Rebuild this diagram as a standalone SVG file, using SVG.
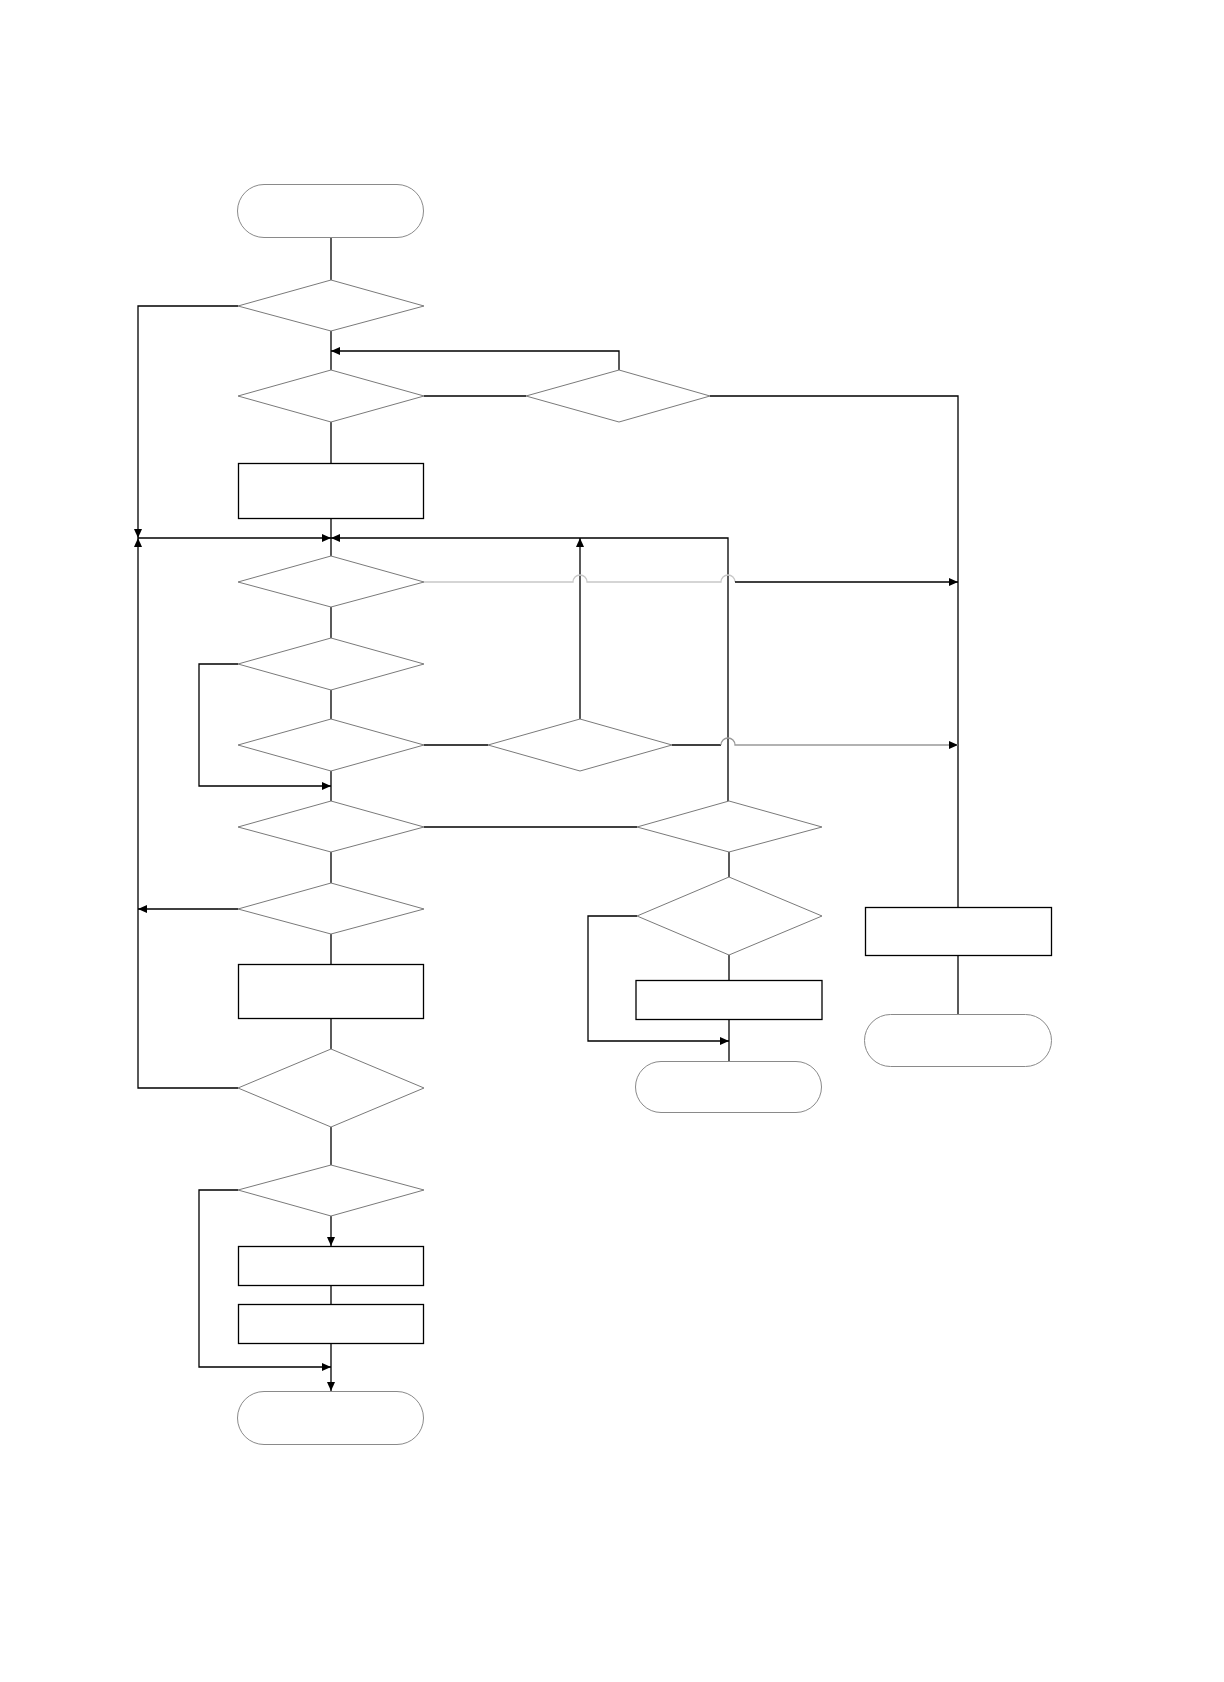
<svg xmlns="http://www.w3.org/2000/svg" width="1224" height="1682" viewBox="0 0 1224 1682">
<style>
.term{fill:#fff;stroke:#8a8a8a;stroke-width:1}
.dia{fill:#fff;stroke:#7a7a7a;stroke-width:1}
.box{fill:#fff;stroke:#000;stroke-width:1.3}
.c{fill:none;stroke:#000;stroke-width:1.3}
.cg{fill:none;stroke:#c8c8c8;stroke-width:1.3}
.cm{fill:none;stroke:#999;stroke-width:1.3}
</style>
<defs>
<marker id="ah" markerUnits="userSpaceOnUse" markerWidth="10" markerHeight="9" refX="9" refY="4" orient="auto">
<path d="M0,0 L9,4 L0,8 z" fill="#000"/>
</marker>
</defs>
<rect width="1224" height="1682" fill="#fff"/>
<g id="connectors">
<path class="c" d="M331,237 V280"/>
<path class="c" d="M331,331 V370"/>
<path class="c" d="M238,306 H138 V538" marker-end="url(#ah)"/>
<path class="c" d="M619,370 V351 H331" marker-end="url(#ah)"/>
<path class="c" d="M424,396 H526"/>
<path class="c" d="M710,396 H958 V907"/>
<path class="c" d="M331,422 V463"/>
<path class="c" d="M331,518 V556"/>
<path class="c" d="M138,538 H331" marker-end="url(#ah)"/>
<path class="c" d="M728,801 V538 H331" marker-end="url(#ah)"/>
<path class="c" d="M580,719 V538" marker-end="url(#ah)"/>
<path class="cg" d="M424,582 H573 A7,7 0 0 1 587,582 H721 A7,7 0 0 1 735,582"/>
<path class="c" d="M735,582 H958" marker-end="url(#ah)"/>
<path class="c" d="M331,607 V638"/>
<path class="c" d="M238,664 H199 V786 H331" marker-end="url(#ah)"/>
<path class="c" d="M331,690 V719"/>
<path class="c" d="M424,745 H488"/>
<path class="c" d="M672,745 H721"/>
<path class="cm" d="M721,745 A7,7 0 0 1 735,745 H958" marker-end="url(#ah)"/>
<path class="c" d="M331,771 V801"/>
<path class="c" d="M424,827 H637"/>
<path class="c" d="M331,852 V883"/>
<path class="c" d="M238,909 H138" marker-end="url(#ah)"/>
<path class="c" d="M331,934 V964"/>
<path class="c" d="M331,1018 V1049"/>
<path class="c" d="M238,1088 H138 V538" marker-end="url(#ah)"/>
<path class="c" d="M331,1127 V1165"/>
<path class="c" d="M331,1216 V1246" marker-end="url(#ah)"/>
<path class="c" d="M331,1285 V1304"/>
<path class="c" d="M331,1343 V1391" marker-end="url(#ah)"/>
<path class="c" d="M238,1190 H199 V1367 H331" marker-end="url(#ah)"/>
<path class="c" d="M729,852 V877"/>
<path class="c" d="M729,955 V980"/>
<path class="c" d="M729,1019 V1061"/>
<path class="c" d="M637,916 H588 V1041 H729" marker-end="url(#ah)"/>
<path class="c" d="M958,955 V1014"/>
</g>
<g id="start"><rect class="term" x="237.5" y="184.5" width="186" height="53" rx="26.5"/></g>
<g id="d1"><polygon class="dia" points="331,280 424,306 331,331 238,306"/></g>
<g id="d2"><polygon class="dia" points="331,370 424,396 331,422 238,396"/></g>
<g id="d3"><polygon class="dia" points="619,370 710,396 619,422 526,396"/></g>
<g id="rect1"><rect class="box" x="238.5" y="463.5" width="185" height="55"/></g>
<g id="d4"><polygon class="dia" points="331,556 424,582 331,607 238,582"/></g>
<g id="d5l"><polygon class="dia" points="331,638 424,664 331,690 238,664"/></g>
<g id="d6"><polygon class="dia" points="331,719 424,745 331,771 238,745"/></g>
<g id="d5"><polygon class="dia" points="580,719 672,745 580,771 488,745"/></g>
<g id="d7"><polygon class="dia" points="331,801 424,827 331,852 238,827"/></g>
<g id="r1"><polygon class="dia" points="729,801 822,827 729,852 637,827"/></g>
<g id="d8"><polygon class="dia" points="331,883 424,909 331,934 238,909"/></g>
<g id="rect2"><rect class="box" x="238.5" y="964.5" width="185" height="54"/></g>
<g id="d9"><polygon class="dia" points="331,1049 424,1088 331,1127 238,1088"/></g>
<g id="d10"><polygon class="dia" points="331,1165 424,1190 331,1216 238,1190"/></g>
<g id="rect3"><rect class="box" x="238.5" y="1246.5" width="185" height="39"/></g>
<g id="rect4"><rect class="box" x="238.5" y="1304.5" width="185" height="39"/></g>
<g id="end"><rect class="term" x="237.5" y="1391.5" width="186" height="53" rx="26.5"/></g>
<g id="r2"><polygon class="dia" points="729,877 822,916 729,955 637,916"/></g>
<g id="rrect"><rect class="box" x="636" y="980.5" width="186" height="39"/></g>
<g id="rterm"><rect class="term" x="635.5" y="1061.5" width="186" height="51" rx="25.5"/></g>
<g id="frect"><rect class="box" x="865.5" y="907.5" width="186" height="48"/></g>
<g id="fterm"><rect class="term" x="864.5" y="1014.5" width="187" height="52" rx="26"/></g>
</svg>
